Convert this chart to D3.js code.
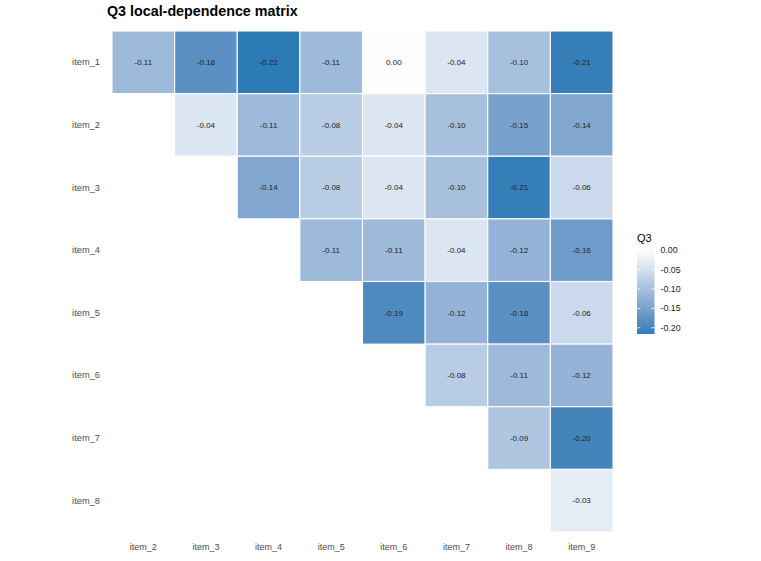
<!DOCTYPE html>
<html>
<head>
<meta charset="utf-8">
<script src="https://cdn.jsdelivr.net/npm/d3@7"></script>
<style>
  html, body { margin: 0; padding: 0; background: #fff; }
  svg { display: block; font-family: "Liberation Sans", Arial, Helvetica, sans-serif; }
</style>
</head>
<body>
<div id="chart"></div>
<script>
// ---- data ----
const rowItems = ["item_1","item_2","item_3","item_4","item_5","item_6","item_7","item_8"];
const colItems = ["item_2","item_3","item_4","item_5","item_6","item_7","item_8","item_9"];
// upper-triangle Q3 values, one array per row (starting at the column right after the row item)
const q3_item_1 = [-0.11, -0.18, -0.216, -0.11, 0.003, -0.04, -0.10, -0.21];
const q3_item_2 = [-0.04, -0.11, -0.08, -0.04, -0.10, -0.15, -0.14];
const q3_item_3 = [-0.14, -0.08, -0.04, -0.10, -0.21, -0.06];
const q3_item_4 = [-0.11, -0.11, -0.04, -0.12, -0.16];
const q3_item_5 = [-0.19, -0.12, -0.18, -0.06];
const q3_item_6 = [-0.08, -0.11, -0.12];
const q3_item_7 = [-0.09, -0.20];
const q3_item_8 = [-0.03];
const rowValues = [q3_item_1, q3_item_2, q3_item_3, q3_item_4, q3_item_5, q3_item_6, q3_item_7, q3_item_8];
const legendTicks = [0.00, -0.05, -0.10, -0.15, -0.20];
const titleText = "Q3 local-dependence matrix";
const legendTitle = "Q3";

// build cell table
const cells = [];
rowValues.forEach((vals, r) => {
  vals.forEach((v, k) => {
    cells.push({ row: rowItems[r], col: colItems[r + k], value: v });
  });
});

// ---- layout ----
const W = 761, H = 561;
const svg = d3.select("#chart").append("svg").attr("width", W).attr("height", H);

const x = d3.scaleBand().domain(colItems).range([112, 613]).padding(0);
const y = d3.scaleBand().domain(rowItems).range([31, 532]).padding(0);

const vMin = d3.min(cells, d => d.value), vMax = d3.max(cells, d => d.value);
const maxAbs = Math.max(Math.abs(vMin), Math.abs(vMax));
const lowC = "#2c7bb6", midC = "#ffffff", highC = "#d7191c";
const color = v => {
  const t = 0.5 + v / (2 * maxAbs);
  return t < 0.5 ? d3.interpolateLab(lowC, midC)(t / 0.5)
                 : d3.interpolateLab(midC, highC)((t - 0.5) / 0.5);
};

// title
svg.append("text").attr("x", 107).attr("y", 16)
  .attr("font-size", 14.3).attr("font-weight", "bold").attr("fill", "#000")
  .text(titleText);

// tiles
const g = svg.append("g");
g.selectAll("rect").data(cells).join("rect")
  .attr("x", d => x(d.col)).attr("y", d => y(d.row))
  .attr("width", x.bandwidth()).attr("height", y.bandwidth())
  .attr("fill", d => color(d.value))
  .attr("stroke", "#fff").attr("stroke-width", 1.1);

g.selectAll("text.cell").data(cells).join("text").attr("class", "cell")
  .attr("x", d => x(d.col) + x.bandwidth() / 2)
  .attr("y", d => y(d.row) + y.bandwidth() / 2)
  .attr("dy", "0.35em").attr("text-anchor", "middle")
  .attr("font-size", 8).attr("fill", "#222")
  .text(d => d3.format(".2f")(d.value).replace("−", "-"));

// axes
const xAxis = svg.append("g").attr("transform", "translate(0,540)")
  .call(d3.axisBottom(x).tickSize(0).tickPadding(0));
xAxis.select(".domain").remove();
xAxis.selectAll("text").attr("font-size", 9).attr("fill", "#4d4d4d")
  .attr("font-family", "Liberation Sans, Arial, sans-serif").attr("dy", "0.71em").attr("y", 4);

const yAxis = svg.append("g").attr("transform", "translate(100,0)")
  .call(d3.axisLeft(y).tickSize(0).tickPadding(0));
yAxis.select(".domain").remove();
yAxis.selectAll("text").attr("font-size", 9.3).attr("fill", "#4d4d4d")
  .attr("font-family", "Liberation Sans, Arial, sans-serif");

// legend
const lx = 637, lw = 17.5, lTop = 249, lBot = 334;
const ly = d3.scaleLinear().domain([vMin, vMax]).range([lBot, lTop]);
const defs = svg.append("defs");
const grad = defs.append("linearGradient").attr("id", "lg")
  .attr("x1", 0).attr("y1", 1).attr("x2", 0).attr("y2", 0);
d3.range(0, 21).forEach(i => {
  const v = vMin + (vMax - vMin) * i / 20;
  grad.append("stop").attr("offset", i / 20).attr("stop-color", color(v));
});
svg.append("rect").attr("x", lx).attr("y", lTop).attr("width", lw).attr("height", lBot - lTop)
  .attr("fill", "url(#lg)");
svg.append("text").attr("x", lx).attr("y", 242).attr("font-size", 11).attr("fill", "#000").text(legendTitle);
const lt = svg.append("g");
legendTicks.forEach(t => {
  const yy = ly(t);
  lt.append("line").attr("x1", lx).attr("x2", lx + 3.5).attr("y1", yy).attr("y2", yy)
    .attr("stroke", "#fff").attr("stroke-width", 0.8);
  lt.append("line").attr("x1", lx + lw - 3.5).attr("x2", lx + lw).attr("y1", yy).attr("y2", yy)
    .attr("stroke", "#fff").attr("stroke-width", 0.8);
  lt.append("text").attr("x", lx + lw + 6).attr("y", yy).attr("dy", "0.35em")
    .attr("font-size", 8.8).attr("fill", "#222")
    .text(d3.format(".2f")(t).replace("−", "-"));
});
</script>
</body>
</html>
